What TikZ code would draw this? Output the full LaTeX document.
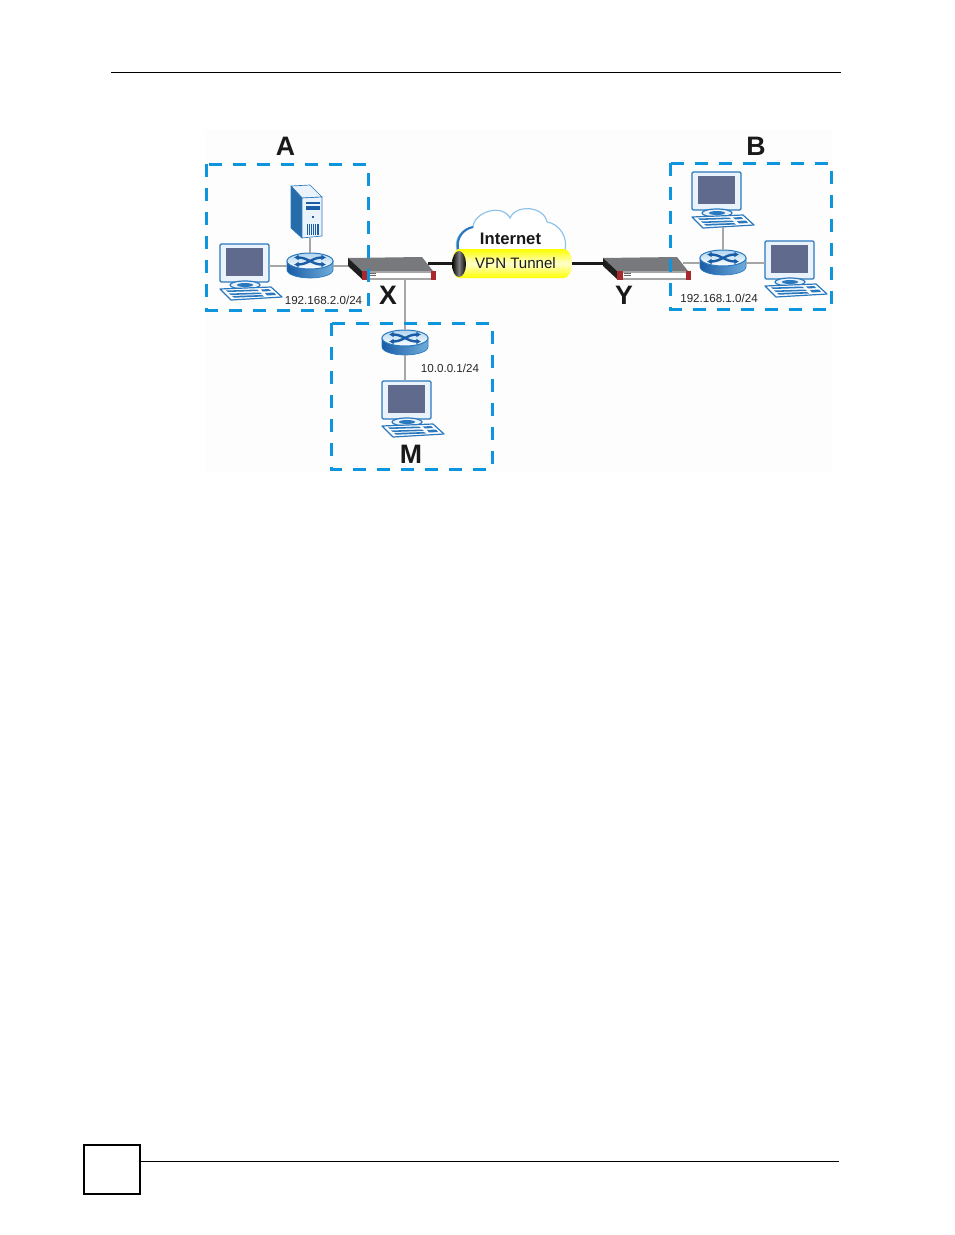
\documentclass[tikz,border=0pt]{standalone}
\usetikzlibrary{arrows.meta}
\usepackage{fontspec}
\setmainfont{Liberation Sans}
\definecolor{dashblue}{HTML}{0F95DD}
\definecolor{devblue}{HTML}{2A78BE}
\definecolor{darkblue}{HTML}{1A5DA6}
\definecolor{paleblue}{HTML}{EAF3FB}
\definecolor{screen}{HTML}{5F6A8C}
\definecolor{wire}{HTML}{A6A6A6}
\definecolor{fwred}{HTML}{A8282C}
\definecolor{fwtop}{HTML}{77797D}
\definecolor{cloudblue}{HTML}{8FC4E8}
\tikzset{
  zone/.style={draw=dashblue,line width=2.25pt,dash pattern=on 9.75pt off 8.25pt},
  conn/.style={draw=wire,line width=.8pt},
  trunk/.style={draw=black!90,line width=2.25pt},
  biglabel/.style={font=\fontsize{20}{20}\selectfont\bfseries,text=black!90,inner sep=0pt},
  iplabel/.style={font=\fontsize{8.7}{9}\selectfont,text=black!85,inner sep=0pt},
  computer/.pic={
    \coordinate (-e) at (49,22);
    \coordinate (-w) at (0,22);
    \coordinate (-n) at (23,0);
    \coordinate (-s) at (31,55);
    \fill[paleblue,draw=devblue,line width=.9pt,rounded corners=1pt] (0,0) rectangle (49,38);
    \fill[screen] (6,4) rectangle (43,32);
    \fill[paleblue,draw=devblue,line width=.9pt] (25,41) ellipse [x radius=15,y radius=4];
    \fill[devblue] (25,41) ellipse [x radius=8,y radius=2];
    \fill[white,draw=devblue,line width=.9pt,line join=round] (0,45) -- (51,43) -- (62,53) -- (11,56) -- cycle;
    \fill[devblue] (6,46.5) -- (37,45.5) -- (39,47) -- (8,48) -- cycle;
    \fill[devblue] (9,49.5) -- (40,48.5) -- (42,50) -- (11,51) -- cycle;
    \fill[devblue] (12,52) -- (42,51) -- (44,52.5) -- (14,53.7) -- cycle;
    \fill[devblue] (41,45.5) -- (49,45) -- (51,47) -- (43,47.5) -- cycle;
    \fill[devblue] (45,49) -- (54,48.5) -- (56,51) -- (47,51.5) -- cycle;
  },
  router/.pic={
    \coordinate (-n) at (0,-8);
    \coordinate (-s) at (0,17);
    \coordinate (-w) at (-23,5);
    \coordinate (-e) at (23,5);
    \shade[left color=darkblue,middle color=paleblue,right color=cloudblue!70!devblue,draw=devblue,line width=.5pt]
      (-23,0) -- (-23,9) arc [start angle=180,end angle=0,x radius=23,y radius=8] -- (23,0) -- cycle;
    \shade[top color=cloudblue!70,bottom color=white,draw=devblue,line width=.75pt] (0,0) ellipse [x radius=23,y radius=8];
    \draw[darkblue,line width=1.8pt,-{Latex[length=3.5pt,width=4.5pt]}] (-12,-3.5) .. controls (-2,-3.5) and (2,3.5) .. (16,3.5);
    \draw[darkblue,line width=1.8pt,-{Latex[length=3.5pt,width=4.5pt]}] (-12,3.5) .. controls (-2,3.5) and (2,-3.5) .. (16,-3.5);
    \draw[darkblue,line width=1.8pt,{Latex[length=3.5pt,width=4.5pt]}-] (-16,-3.5) -- (-11,-3.5);
    \draw[darkblue,line width=1.8pt,{Latex[length=3.5pt,width=4.5pt]}-] (-16,3.5) -- (-11,3.5);
  },
  server/.pic={
    \coordinate (-s) at (19,52);
    \fill[paleblue,draw=devblue,line width=.5pt,line join=round] (0,0) -- (19,-1) -- (31,11) -- (11,12) -- cycle;
    \fill[devblue!90!black,draw=devblue,line width=.5pt,line join=round] (0,0) -- (11,12) -- (11,52) -- (0,42) -- cycle;
    \fill[paleblue,draw=devblue,line width=.5pt,line join=round] (11,12) -- (31,11) -- (31,50) -- (11,52) -- cycle;
    \fill[darkblue] (15,15.5) rectangle (29,18);
    \fill[darkblue] (15,20) rectangle (29,24);
    \fill[darkblue] (21,30) rectangle (23,32);
    \foreach \i in {0,...,6} {\fill[darkblue] (16+1.9*\i,38) rectangle (17+1.9*\i,49);}
  },
  firewall/.pic={
    \coordinate (-w) at (0,8);
    \coordinate (-t) at (2,5);
    \coordinate (-e) at (80,5);
    \coordinate (-s) at (57,21);
    \fill[fwtop,line join=round] (0,0) -- (74,-1) -- (85,13) -- (14,13) -- cycle;
    \fill[black!88] (0,0) -- (14,13) -- (14,21) -- (0,8) -- cycle;
    \fill[black!35] (14,13) rectangle (88,22);
    \fill[white] (19,14.5) rectangle (83,20);
    \fill[fwred] (14,13) rectangle (20,22);
    \fill[fwred] (83,13) rectangle (88,22);
    \fill[black!60] (21,15) rectangle (28,16.2);
    \fill[black!60] (21,17.4) rectangle (28,18.4);
  }
}
\begin{document}
\begin{tikzpicture}[x=.75pt,y=-.75pt]
\useasboundingbox (0,0) rectangle (954,1235);
% page furniture
\fill[white] (0,0) rectangle (954,1235);
\fill[black!0.7] (205,130) rectangle (832,472);
\draw[black,line width=.75pt] (111,72) -- (841,72);
\draw[black,line width=.75pt] (141,1161) -- (839,1161);
\draw[black,line width=1.6pt] (84,1145) rectangle (140,1194);
% devices
\pic (srv) at (291,186) {server};
\pic (pca) at (220,244) {computer};
\pic (rta) at (310,261) {router};
\pic (fwx) at (348,258) {firewall};
\pic (pcb) at (692,172) {computer};
\pic (pcc) at (765,241) {computer};
\pic (rtb) at (723,258) {router};
\pic (fwy) at (603,258) {firewall};
\pic (rtm) at (405,338) {router};
\pic (pcm) at (382,381) {computer};
% cloud
\coordinate (cl0) at (457,250);
\coordinate (cl1) at (565,250);
\fill[white,draw=cloudblue,line width=.9pt]
  (cl0) .. controls (454,238) and (462,229) .. (473,227)
  .. controls (474,212) and (502,203) .. (510,218)
  .. controls (516,204) and (544,206) .. (547,222)
  .. controls (560,224) and (568,238) .. (cl1) -- cycle;
\draw[devblue,line width=1.6pt] (458,249) .. controls (456,238) and (463,229) .. (473,227);
\node[inner sep=0pt,font=\fontsize{12.5}{13}\selectfont\bfseries,text=black!90] (inet) at (510.5,239) {Internet};
% tunnel
\shade[top color=yellow,bottom color=yellow,middle color=yellow!20,rounded corners=0pt]
  (459,249) -- (564,249) arc [start angle=-90,end angle=90,x radius=8,y radius=14.5] -- (459,278) arc [start angle=90,end angle=270,x radius=7,y radius=14.5] -- cycle;
\shade[left color=black,right color=black,middle color=black!50] (459,264) ellipse [x radius=7,y radius=13];
\node[minimum width=90pt,minimum height=21.75pt,inner sep=0pt] (tunnel) at (512,263) {};
\node[inner sep=0pt,font=\fontsize{11.3}{12}\selectfont,text=black!90] (vpn) at (515.5,263) {VPN Tunnel};
% connectors
\draw[conn] (pca-e) -- (rta-w);
\draw[conn] (rta-e) -- (fwx-w);
\draw[conn] (srv-s) -- (rta-n);
\draw[conn] (fwx-s) -- (rtm-n);
\draw[conn] (rtm-s) -- (pcm-n);
\draw[conn] (fwy-e) -- (rtb-w);
\draw[conn] (rtb-e) -- (pcc-w);
\draw[conn] (rtb-n) -- (rtb-n |- pcb-s);
\draw[trunk] (fwx-e) -- (tunnel.west);
\draw[trunk] (tunnel.east) -- (fwy-t);
% zones
\draw[zone] (206.5,164) rectangle (368,310);
\draw[zone] (670.5,163) rectangle (831,309);
\draw[zone] (331,323) rectangle (492,469);
% labels
\node[biglabel] (la) at (285.5,146) {A};
\node[biglabel] (lb) at (756,146) {B};
\node[biglabel] (lx) at (388,295) {X};
\node[biglabel] (ly) at (624,295) {Y};
\node[biglabel] (lm) at (411,454) {M};
\node[iplabel] (ipa) at (323.5,300) {192.168.2.0/24};
\node[iplabel] (ipb) at (719,298) {192.168.1.0/24};
\node[iplabel] (ipm) at (450,368.5) {10.0.0.1/24};
\end{tikzpicture}
\end{document}
